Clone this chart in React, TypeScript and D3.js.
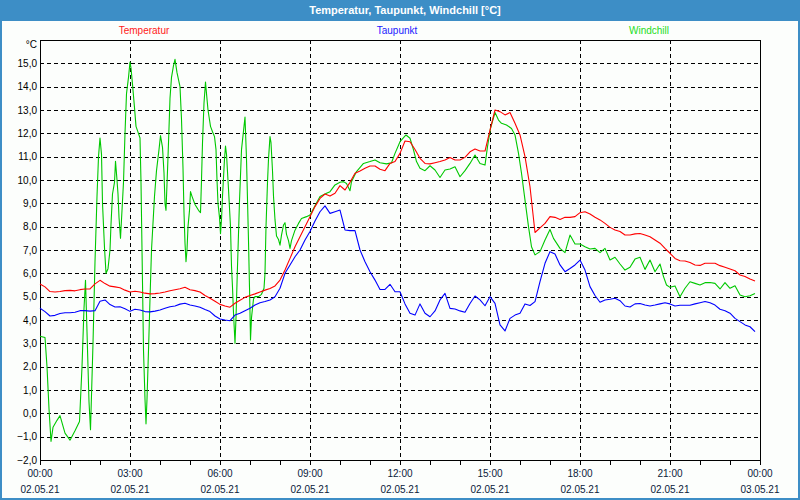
import * as d3 from 'd3';

// Temperatur, every 10 minutes from 00:00 (02.05.21)
const temperature = [
  5.54, 5.42, 5.22, 5.2, 5.22, 5.26, 5.27, 5.25, 5.3, 5.33, 5.33, 5.55,
  5.7, 5.56, 5.45, 5.42, 5.38, 5.28, 5.2, 5.23, 5.2, 5.15, 5.12, 5.13,
  5.16, 5.2, 5.25, 5.3, 5.34, 5.4, 5.3, 5.26, 5.2, 5.05, 4.93, 4.8,
  4.67, 4.6, 4.55, 4.72, 4.85, 4.97, 5.05, 5.12, 5.2, 5.28, 5.35, 5.46,
  5.71, 6.14, 6.64, 7.14, 7.57, 8.0, 8.43, 8.86, 9.21, 9.4, 9.31, 9.43,
  9.76, 9.57, 9.9, 10.29, 10.39, 10.5, 10.6, 10.6, 10.46, 10.4, 10.71, 10.79,
  11.14, 11.67, 11.64, 11.31, 10.93, 10.71, 10.69, 10.74, 10.79, 10.86, 10.96, 10.86,
  10.86, 10.97, 11.21, 11.33, 11.24, 11.24, 12.14, 13.0, 12.93, 12.79, 12.89, 12.43,
  11.93, 11.0, 9.71, 7.75, 7.95, 8.14, 8.43, 8.4, 8.31, 8.4, 8.4, 8.43,
  8.6, 8.64, 8.54, 8.4, 8.29, 8.14, 7.97, 7.86, 7.79, 7.64, 7.64, 7.69,
  7.71, 7.64, 7.57, 7.43, 7.29, 7.07, 6.86, 6.64, 6.54, 6.53, 6.46, 6.36,
  6.34, 6.43, 6.43, 6.43, 6.33, 6.26, 6.19, 6.11, 5.93, 5.86, 5.76, 5.67,
];

// Taupunkt, every 10 minutes from 00:00
const dewPoint = [
  4.5, 4.36, 4.17, 4.2, 4.28, 4.31, 4.31, 4.33, 4.4, 4.4, 4.38, 4.4,
  4.8, 4.86, 4.66, 4.56, 4.57, 4.48, 4.37, 4.46, 4.43, 4.36, 4.35, 4.38,
  4.43, 4.5, 4.57, 4.6, 4.68, 4.72, 4.64, 4.6, 4.55, 4.45, 4.36, 4.17,
  4.04, 4.0, 3.97, 4.21, 4.29, 4.4, 4.5, 4.64, 4.74, 4.79, 4.86, 5.0,
  5.36, 6.0, 6.36, 6.71, 7.0, 7.43, 7.79, 8.24, 8.64, 8.89, 8.57, 8.64,
  8.71, 7.86, 7.83, 7.83, 7.0, 6.5, 6.07, 5.71, 5.31, 5.31, 5.53, 5.21,
  5.21, 4.69, 4.29, 4.21, 4.69, 4.29, 4.14, 4.39, 4.86, 5.14, 4.5, 4.47,
  4.39, 4.33, 4.71, 5.03, 4.86, 4.61, 5.0, 4.71, 3.79, 3.53, 4.07, 4.21,
  4.29, 4.69, 4.62, 4.79, 5.64, 6.43, 6.93, 6.83, 6.36, 6.07, 6.21, 6.36,
  6.57, 6.14, 5.43, 5.05, 4.76, 4.86, 4.89, 4.93, 4.83, 4.6, 4.56, 4.69,
  4.71, 4.64, 4.6, 4.64, 4.69, 4.74, 4.69, 4.6, 4.63, 4.63, 4.63, 4.69,
  4.74, 4.79, 4.74, 4.64, 4.46, 4.4, 4.29, 4.07, 3.93, 3.79, 3.71, 3.5,
];

// Windchill: [minute of day, value], denser where the sensor jumps
const windchill: [number, number][] = [
  [0, 3.3], [10, 3.25], [14, 2.0], [18, 0.2], [22, -1.2], [26, -0.6], [34, -0.3], [40, -0.1],
  [50, -0.85], [60, -1.15], [70, -0.75], [79, -0.35], [84, 2.0], [88, 4.5], [91, 5.7], [94, 3.5],
  [98, 0.5], [101, -0.7], [106, 3.0], [110, 6.5], [114, 9.3], [117, 11.0], [120, 11.8], [123, 11.1],
  [125, 9.0], [129, 7.1], [132, 6.0], [136, 6.2], [140, 7.0], [142, 8.1], [145, 9.4], [149, 9.9],
  [151, 10.8], [154, 10.0], [156, 9.4], [158, 8.4], [161, 7.5], [164, 8.7], [167, 9.9], [170, 12.0],
  [173, 13.7], [177, 14.4], [180, 15.05], [182, 14.8], [185, 14.1], [189, 13.1], [192, 12.3], [196, 12.05],
  [200, 11.8], [202, 9.9], [205, 5.6], [207, 2.7], [210, 0.6], [212, -0.45], [214, 0.6], [217, 2.7],
  [220, 4.9], [223, 7.0], [229, 9.3], [233, 10.4], [238, 11.3], [241, 11.9], [245, 11.4], [248, 10.3],
  [250, 9.0], [252, 8.7], [255, 10.4], [257, 11.6], [260, 13.5], [263, 14.4], [267, 14.9], [270, 15.17],
  [274, 14.6], [280, 14.0], [283, 12.6], [286, 10.5], [288, 8.6], [290, 7.3], [292, 6.5], [294, 7.0],
  [296, 8.0], [299, 8.7], [301, 9.5], [304, 9.3], [310, 8.95], [317, 8.7], [321, 8.6], [323, 10.0],
  [325, 11.6], [328, 13.3], [331, 14.2], [333, 13.7], [336, 13.0], [341, 12.3], [345, 12.07], [349, 11.86],
  [352, 11.3], [354, 10.0], [356, 9.0], [359, 8.4], [361, 7.7], [363, 8.3], [365, 9.3], [369, 10.9],
  [371, 11.45], [373, 11.1], [377, 9.6], [381, 8.0], [383, 6.3], [385, 5.4], [387, 4.3], [390, 3.0],
  [392, 4.1], [395, 6.3], [399, 9.1], [403, 11.3], [408, 12.3], [410, 12.7], [413, 10.9], [417, 7.4],
  [419, 5.4], [420, 4.3], [421, 3.14], [423, 4.1], [427, 4.9], [430, 5.0], [437, 5.0], [443, 5.1],
  [448, 5.36], [450, 6.0], [452, 8.0], [455, 9.9], [457, 10.9], [460, 11.86], [462, 11.6], [465, 10.4],
  [467, 9.3], [470, 8.3], [473, 7.6], [477, 7.45], [480, 7.21], [483, 7.64], [487, 8.07], [490, 8.17],
  [493, 7.67], [497, 7.4], [500, 7.07], [503, 7.4], [510, 7.85], [517, 8.14], [523, 8.35], [533, 8.43],
  [540, 8.5], [550, 8.9], [560, 9.29], [573, 9.43], [580, 9.5], [590, 9.79], [600, 9.9], [607, 9.93],
  [613, 9.85], [620, 9.54], [623, 9.93], [633, 10.36], [647, 10.71], [660, 10.79], [670, 10.86], [680, 10.74],
  [693, 10.69], [703, 10.74], [710, 11.14], [720, 11.64], [732, 11.93], [740, 11.79], [747, 11.29], [753, 10.79],
  [760, 10.5], [770, 10.4], [780, 10.61], [790, 10.43], [800, 10.11], [810, 10.43], [820, 10.47], [830, 10.57],
  [840, 10.14], [850, 10.4], [860, 10.71], [870, 11.07], [880, 10.71], [890, 10.64], [895, 11.43], [901, 12.21],
  [910, 12.89], [917, 12.57], [923, 12.43], [933, 12.36], [943, 12.21], [950, 11.93], [957, 11.14], [963, 10.29],
  [970, 9.14], [977, 8.0], [983, 7.14], [990, 6.79], [1000, 6.93], [1010, 7.43], [1020, 7.88], [1027, 7.5],
  [1040, 7.07], [1050, 6.89], [1060, 7.64], [1070, 7.26], [1080, 7.26], [1090, 7.14], [1100, 7.04], [1110, 7.07],
  [1120, 6.89], [1130, 7.07], [1140, 6.57], [1150, 6.69], [1160, 6.4], [1170, 6.14], [1180, 6.26], [1190, 6.61],
  [1200, 6.69], [1210, 6.17], [1220, 6.57], [1230, 6.07], [1240, 6.4], [1247, 5.86], [1253, 5.5], [1260, 5.4],
  [1270, 5.46], [1280, 5.0], [1290, 5.36], [1300, 5.64], [1310, 5.57], [1320, 5.5], [1330, 5.6], [1340, 5.61],
  [1350, 5.57], [1360, 5.33], [1370, 5.6], [1380, 5.36], [1390, 5.47], [1400, 5.07], [1410, 5.0], [1420, 5.04],
  [1430, 5.14],
];

const timeLabels = ['00:00', '03:00', '06:00', '09:00', '12:00', '15:00', '18:00', '21:00', '00:00'];
const dateLabels = ['02.05.21', '02.05.21', '02.05.21', '02.05.21', '02.05.21', '02.05.21', '02.05.21', '02.05.21', '03.05.21'];
const yTicks = d3.range(-2, 16);

const legend = [
  { name: 'Temperatur', color: '#ff1a1a', cx: 144 },
  { name: 'Taupunkt', color: '#1a1aff', cx: 397 },
  { name: 'Windchill', color: '#22dd22', cx: 649 },
];

const font = '"Liberation Sans", Arial, sans-serif';
const frame = '#3d8ec6';

export default function App() {
  const x = d3.scaleLinear().domain([0, 1440]).range([40, 760]);
  const y = d3.scaleLinear().domain([-2, 16]).range([460, 40]);
  const line = d3
    .line<[number, number]>()
    .x((d) => x(d[0]))
    .y((d) => y(d[1]));

  const tempPts = temperature.map((v, i) => [i * 10, v] as [number, number]);
  const dewPts = dewPoint.map((v, i) => [i * 10, v] as [number, number]);
  const fmt = (v: number) => d3.format('.1f')(v).replace('.', ',');
  const px = (v: number) => Math.round(v) + 0.5;

  return (
    <svg
      width={800}
      height={500}
      style={{ position: 'absolute', left: 0, top: 0, display: 'block' }}
      fontFamily={font}
    >
      <rect x={0} y={0} width={800} height={500} fill="#fcfefc" />
      <rect x={0} y={0} width={800} height={21} fill={frame} />
      <rect x={1} y={1} width={798} height={498} fill="none" stroke={frame} strokeWidth={2} />
      <text x={405} y={14} textAnchor="middle" fill="#fff" fontSize={11} fontWeight="bold">
        Temperatur, Taupunkt, Windchill [°C]
      </text>

      {legend.map((l) => (
        <text key={l.name} x={l.cx} y={34} textAnchor="middle" fill={l.color} fontSize={10}>
          {l.name}
        </text>
      ))}

      <text x={37} y={48} textAnchor="end" fontSize={10} fill="#000">°C</text>

      {/* grid, hour ticks and frame */}
      <g shapeRendering="crispEdges">
        {yTicks
          .filter((t) => t > -2)
          .map((t) => (
            <line key={t} x1={40} x2={760} y1={px(y(t))} y2={px(y(t))} stroke="#000" strokeDasharray="4,3" />
          ))}
        {timeLabels.slice(1, -1).map((_, i) => {
          const xv = px(x((i + 1) * 180));
          return <line key={i} x1={xv} x2={xv} y1={40} y2={460} stroke="#000" strokeDasharray="4,3" />;
        })}
        {d3.range(0, 1441, 60).map((m) => (
          <line key={m} x1={px(x(m))} x2={px(x(m))} y1={460} y2={465} stroke="#000" />
        ))}
        <rect x={40.5} y={40.5} width={720} height={420} fill="none" stroke="#000" />
      </g>

      {yTicks.map((t) => (
        <text key={t} x={37} y={y(t) + 3.5} textAnchor="end" fontSize={10} fill="#000">
          {fmt(t)}
        </text>
      ))}

      {timeLabels.map((lab, i) => (
        <g key={i}>
          <text x={x(i * 180)} y={477} textAnchor="middle" fontSize={10} fill="#0a1a3a">
            {lab}
          </text>
          <text x={x(i * 180)} y={493} textAnchor="middle" fontSize={10} fill="#0a1a3a">
            {dateLabels[i]}
          </text>
        </g>
      ))}

      <g fill="none" strokeWidth={1.1} strokeLinejoin="round">
        <path d={line(windchill) ?? ''} stroke="#00c800" />
        <path d={line(tempPts) ?? ''} stroke="#ff0000" />
        <path d={line(dewPts) ?? ''} stroke="#0000ff" />
      </g>
    </svg>
  );
}
